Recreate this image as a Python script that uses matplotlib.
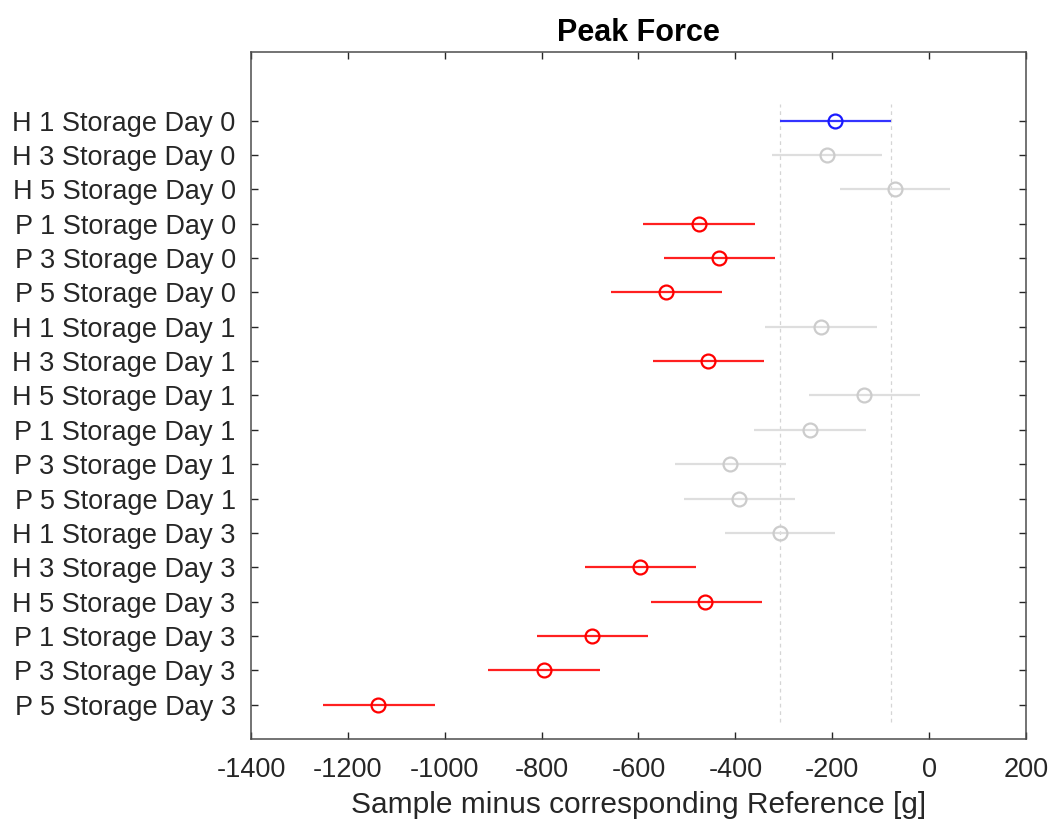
import matplotlib
matplotlib.use("Agg")
import matplotlib.pyplot as plt

plt.rcParams['font.family'] = ['Liberation Sans', 'DejaVu Sans']

labels = ["H 1 Storage Day 0", "H 3 Storage Day 0", "H 5 Storage Day 0",
          "P 1 Storage Day 0", "P 3 Storage Day 0", "P 5 Storage Day 0",
          "H 1 Storage Day 1", "H 3 Storage Day 1", "H 5 Storage Day 1",
          "P 1 Storage Day 1", "P 3 Storage Day 1", "P 5 Storage Day 1",
          "H 1 Storage Day 3", "H 3 Storage Day 3", "H 5 Storage Day 3",
          "P 1 Storage Day 3", "P 3 Storage Day 3", "P 5 Storage Day 3"]
means = [-194, -211, -70, -475, -433, -543, -224, -456, -134, -246, -411, -392,
         -308, -596, -462, -695, -796, -1137]
lower = [-308, -325, -185, -590, -548, -657, -338, -570, -248, -361, -525, -506,
         -422, -711, -575, -809, -911, -1251]
upper = [-78, -98, 44, -360, -318, -428, -108, -340, -19, -131, -296, -277,
         -194, -481, -346, -580, -680, -1021]
# group status: 'ref' selected, 'sig' significantly different, 'ns' not different
status = ["ref", "ns", "ns", "sig", "sig", "sig", "ns", "sig", "ns", "ns", "ns", "ns",
          "ns", "sig", "sig", "sig", "sig", "sig"]
xticks = [-1400, -1200, -1000, -800, -600, -400, -200, 0, 200]

colors = {"ref": "#1a1aff", "sig": "#ff0000", "ns": "#cccccc"}
linecolors = {"ref": "#3333ff", "sig": "#ff2020", "ns": "#dedede"}

fig = plt.figure(figsize=(10.51, 8.23), dpi=100)
ax = fig.add_axes([0.2388, 0.1021, 0.7374, 0.8347])

n = len(labels)
ypos = [n - 1 - i for i in range(n)]

ref_idx = status.index("ref")
for xv in (lower[ref_idx], upper[ref_idx]):
    ax.plot([xv, xv], [-0.5, n - 0.5], linestyle=(0, (3, 3)), color="#d5d5d5",
            linewidth=0.9, zorder=1)

for i in range(n):
    s = status[i]
    ax.plot([lower[i], upper[i]], [ypos[i], ypos[i]], color=linecolors[s],
            linewidth=1.6, zorder=2, solid_capstyle='butt')
    ax.plot(means[i], ypos[i], marker='o', markersize=10, markerfacecolor='none',
            markeredgecolor=colors[s], markeredgewidth=1.6, zorder=3, linestyle='none')

ax.set_xlim(-1400, 200)
ax.set_ylim(-1, n + 1)
ax.set_xticks(xticks)
ax.set_xticklabels([str(v) for v in xticks])
ax.set_yticks(ypos)
ax.set_yticklabels(labels)

ax.tick_params(axis='both', direction='in', length=5, width=1.0, color='#262626',
               labelsize=19.5, labelcolor='#262626', top=True, right=True)
ax.tick_params(axis='x', pad=13)
ax.tick_params(axis='y', pad=11)
for sp in ax.spines.values():
    sp.set_color('#4d4d4d')
    sp.set_linewidth(1.1)

ax.set_xlabel("Sample minus corresponding Reference [g]", fontsize=21.5, color='#262626',
              labelpad=6)
ax.set_title("Peak Force", fontsize=22, fontweight='bold', pad=8)

fig.savefig("out.png", dpi=100)
